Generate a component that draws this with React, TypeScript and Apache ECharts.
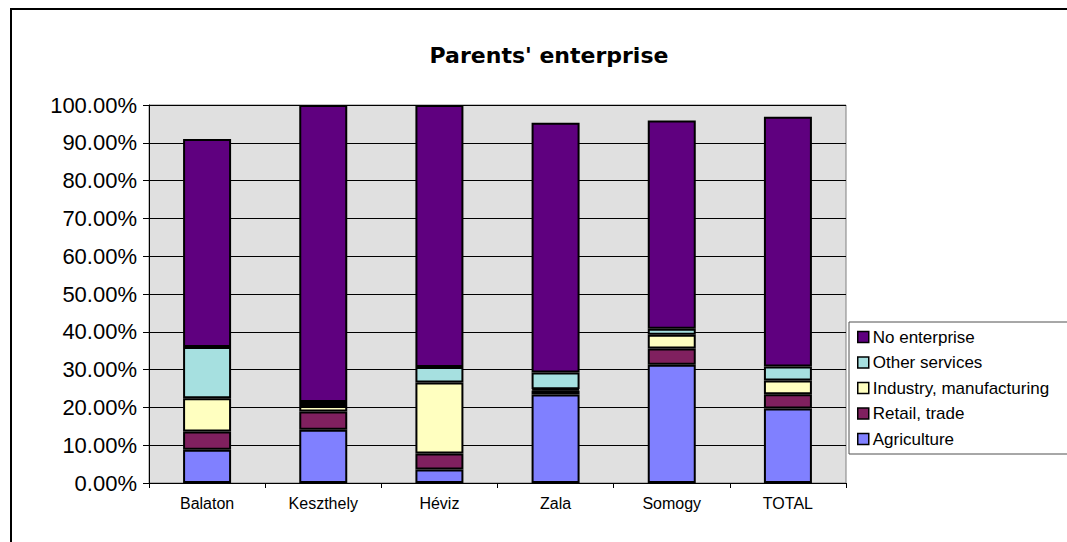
import React, { useEffect, useRef } from "react";
import * as echarts from "echarts";

const categories = ["Balaton", "Keszthely", "Héviz", "Zala", "Somogy", "TOTAL"];
const agriculture = [8.8, 14.1, 3.6, 23.4, 31.3, 19.7];
const retailTrade = [4.8, 4.8, 4.2, 1.1, 4.3, 3.8];
const industry = [8.8, 1.5, 18.8, 0.3, 3.6, 3.6];
const otherServices = [13.6, 1.0, 4.1, 4.4, 1.6, 3.7];
const noEnterprise = [55.0, 78.6, 69.3, 66.1, 55.1, 66.1];

const seriesNames = ["Agriculture", "Retail, trade", "Industry, manufacturing", "Other services", "No enterprise"];
const seriesColors = ["#8080FF", "#80205F", "#FFFFC0", "#A6E0E0", "#5F007F"];
const seriesData = [agriculture, retailTrade, industry, otherServices, noEnterprise];

const AXIS_FONT = "Liberation Sans, Arial, sans-serif";

export default function App() {
  const ref = useRef<HTMLDivElement>(null);
  useEffect(() => {
    if (!ref.current) return;
    const chart = echarts.init(ref.current, null, { renderer: "svg" });
    chart.setOption({
      animation: false,
      backgroundColor: "#ffffff",
      graphic: [
        {
          type: "rect",
          shape: { x: 11, y: 9, width: 1100, height: 600 },
          style: { fill: "none", stroke: "#000", lineWidth: 2 },
          z: 100,
        },
        {
          type: "rect",
          shape: { x: 849, y: 322, width: 240, height: 132 },
          style: { fill: "#ffffff", stroke: "#505050", lineWidth: 1 },
          z: 1,
        },
        {
          type: "text",
          x: 549,
          y: 55,
          style: {
            text: "Parents' enterprise",
            fontFamily: "DejaVu Sans",
            fontWeight: "bold",
            fontSize: 22,
            fill: "#000",
            textAlign: "center",
            textVerticalAlign: "middle",
          },
        },
      ],
      legend: {
        orient: "vertical",
        left: 857,
        top: 328.5,
        padding: 0,
        itemWidth: 11,
        itemHeight: 11,
        itemGap: 8.5,
        z: 5,
        icon: "rect",
        data: [...seriesNames].reverse(),
        textStyle: { fontFamily: AXIS_FONT, fontSize: 17, lineHeight: 17, color: "#000", padding: [0, 0, 0, -1] },
        itemStyle: { borderColor: "#000", borderWidth: 1.5 },
      },
      grid: {
        left: 149,
        top: 105,
        width: 697,
        height: 378,
        show: true,
        backgroundColor: "#E0E0E0",
        borderColor: "#808080",
        borderWidth: 1,
      },
      xAxis: {
        type: "category",
        data: categories,
        axisLine: { lineStyle: { color: "#000", width: 1 } },
        axisTick: { show: true, length: 5, alignWithLabel: false, lineStyle: { color: "#000" } },
        axisLabel: { fontFamily: AXIS_FONT, fontSize: 16, color: "#000", margin: 12 },
      },
      yAxis: {
        type: "value",
        min: 0,
        max: 100,
        interval: 10,
        axisLine: { show: true, lineStyle: { color: "#000", width: 1 } },
        axisTick: { show: true, length: 6, lineStyle: { color: "#000" } },
        axisLabel: {
          fontFamily: AXIS_FONT,
          fontSize: 22,
          color: "#000",
          margin: 12,
          formatter: (v: number) => v.toFixed(2) + "%",
        },
        splitLine: { show: true, lineStyle: { color: "#000", width: 1 } },
      },
      series: seriesNames.map((name, i) => ({
        name,
        type: "bar",
        stack: "total",
        barWidth: 48,
        data: seriesData[i],
        itemStyle: { color: seriesColors[i], borderColor: "#000", borderWidth: 2 },
      })),
    });
    return () => chart.dispose();
  }, []);
  return (
    <div
      ref={ref}
      style={{ position: "fixed", left: 0, top: 0, width: 1067, height: 542, background: "#fff" }}
    />
  );
}
